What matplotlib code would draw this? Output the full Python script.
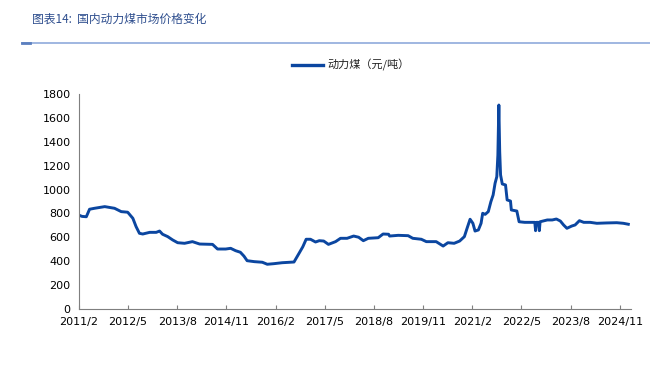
import matplotlib
matplotlib.use("Agg")
import matplotlib.pyplot as plt
import matplotlib.dates as mdates
from matplotlib.lines import Line2D
import pandas as pd

plt.rcParams['font.family'] = ['DejaVu Sans', 'Noto Sans CJK SC']

dates = [
    "2011-02-01", "2011-03-01", "2011-04-10", "2011-05-10", "2011-06-25", "2011-09-28",
    "2011-12-28", "2012-02-28", "2012-04-28", "2012-06-15", "2012-07-15", "2012-08-15",
    "2012-09-15", "2012-11-18", "2013-01-18", "2013-02-18", "2013-03-18", "2013-05-05",
    "2013-06-20", "2013-08-05", "2013-10-08", "2013-12-20", "2014-02-25", "2014-06-25",
    "2014-08-10", "2014-10-25", "2014-12-10", "2015-01-25", "2015-03-10", "2015-04-12",
    "2015-05-12", "2015-07-18", "2015-09-30", "2015-11-15", "2016-01-15", "2016-04-01",
    "2016-07-20", "2016-09-05", "2016-10-10", "2016-11-10", "2016-12-20", "2017-02-05",
    "2017-03-12", "2017-04-22", "2017-06-05", "2017-08-10", "2017-09-25", "2017-11-25",
    "2018-01-25", "2018-03-12", "2018-04-25", "2018-06-10", "2018-09-10", "2018-10-25",
    "2018-12-15", "2018-12-25", "2019-03-15", "2019-06-15", "2019-07-28", "2019-10-15",
    "2019-12-01", "2020-03-01", "2020-05-05", "2020-06-18", "2020-08-15", "2020-10-05",
    "2020-11-18", "2020-12-13", "2021-01-10", "2021-02-05", "2021-02-25", "2021-03-28",
    "2021-04-22", "2021-05-07", "2021-05-30", "2021-06-28", "2021-07-22", "2021-08-12",
    "2021-08-30", "2021-09-15", "2021-09-25", "2021-10-04", "2021-10-12", "2021-10-20",
    "2021-11-05", "2021-12-05", "2021-12-20", "2022-01-20", "2022-01-28", "2022-03-20",
    "2022-04-10", "2022-06-01", "2022-09-03", "2022-09-10", "2022-09-17", "2022-10-08",
    "2022-10-15", "2022-10-22", "2022-12-28", "2023-02-12", "2023-03-22", "2023-04-28",
    "2023-05-28", "2023-06-28", "2023-08-12", "2023-09-12", "2023-10-22", "2023-12-01",
    "2024-01-30", "2024-04-01", "2024-07-01", "2024-10-03", "2024-12-03", "2025-01-18",
]
prices = [
    785, 775, 772, 835, 843, 857,
    843, 815, 810, 759, 689, 633,
    627, 641, 641, 652, 625, 605,
    577, 554, 549, 563, 543, 540,
    501, 501, 507, 487, 474, 442,
    403, 395, 390, 373, 378, 386,
    392, 465, 520, 583, 583, 560,
    571, 568, 540, 563, 591, 591,
    610, 600, 571, 591, 596, 627,
    625, 610, 616, 613, 591, 583,
    563, 563, 526, 554, 549, 568,
    605, 675, 751, 717, 652, 661,
    717, 801, 792, 815, 898, 955,
    1053, 1108, 1290, 1710, 1318, 1123,
    1047, 1039, 913, 904, 829, 820,
    730, 725, 725, 655, 725, 725,
    655, 730, 745, 745, 753, 736,
    703, 675, 694, 703, 739, 725,
    725, 717, 720, 722, 717, 709,
]
tick_dates = ["2011-02-01", "2012-05-01", "2013-08-01", "2014-11-01", "2016-02-01",
              "2017-05-01", "2018-08-01", "2019-11-01", "2021-02-01", "2022-05-01",
              "2023-08-01", "2024-11-01"]
tick_labels = ["2011/2", "2012/5", "2013/8", "2014/11", "2016/2", "2017/5",
               "2018/8", "2019/11", "2021/2", "2022/5", "2023/8", "2024/11"]
y_ticks = [0, 200, 400, 600, 800, 1000, 1200, 1400, 1600, 1800]
series_name = "动力煤（元/吨）"
title = "图表14:  国内动力煤市场价格变化"

x = pd.to_datetime(dates)
line_color = "#0B46A0"

fig = plt.figure(figsize=(6.5, 3.73), dpi=100)
ax = fig.add_axes([79/650, 1-308.7/373, (631-79)/650, (308.7-94.3)/373])
ax.plot(x, prices, color=line_color, lw=2.1, solid_joinstyle='round')
ax.set_ylim(0, 1800)
ax.set_yticks(y_ticks)
ax.set_xlim(pd.Timestamp("2011-02-01"), pd.Timestamp("2025-02-12"))
ax.set_xticks(pd.to_datetime(tick_dates))
ax.set_xticklabels(tick_labels)
for s in ["top", "right"]:
    ax.spines[s].set_visible(False)
for s in ["left", "bottom"]:
    ax.spines[s].set_color("#7f7f7f")
    ax.spines[s].set_linewidth(0.8)
ax.tick_params(axis='x', direction='in', length=3, color="#7f7f7f", labelsize=8, pad=6)
ax.tick_params(axis='y', direction='in', length=0, color="#7f7f7f", labelsize=8, pad=6)

# Header
fig.text(32/650, 1-19/373, title, fontsize=8.5, color="#2E4E8E", style='italic',
         va='center', ha='left', family=['Noto Sans CJK SC', 'DejaVu Sans'])
fig.add_artist(Line2D([22/650, 1.0], [1-42.5/373, 1-42.5/373], color="#8FAADC", lw=1.2))
fig.add_artist(Line2D([22/650, 30/650], [1-43/373, 1-43/373], color="#5B7FBF", lw=2))

# Legend
fig.add_artist(Line2D([292/650, 323/650], [1-65/373, 1-65/373], color=line_color, lw=2.4))
fig.text(327/650, 1-65/373, series_name, fontsize=8, color="#222222", va='center',
         ha='left', family=['Noto Sans CJK SC', 'DejaVu Sans'])

fig.savefig("out.png", dpi=100)
